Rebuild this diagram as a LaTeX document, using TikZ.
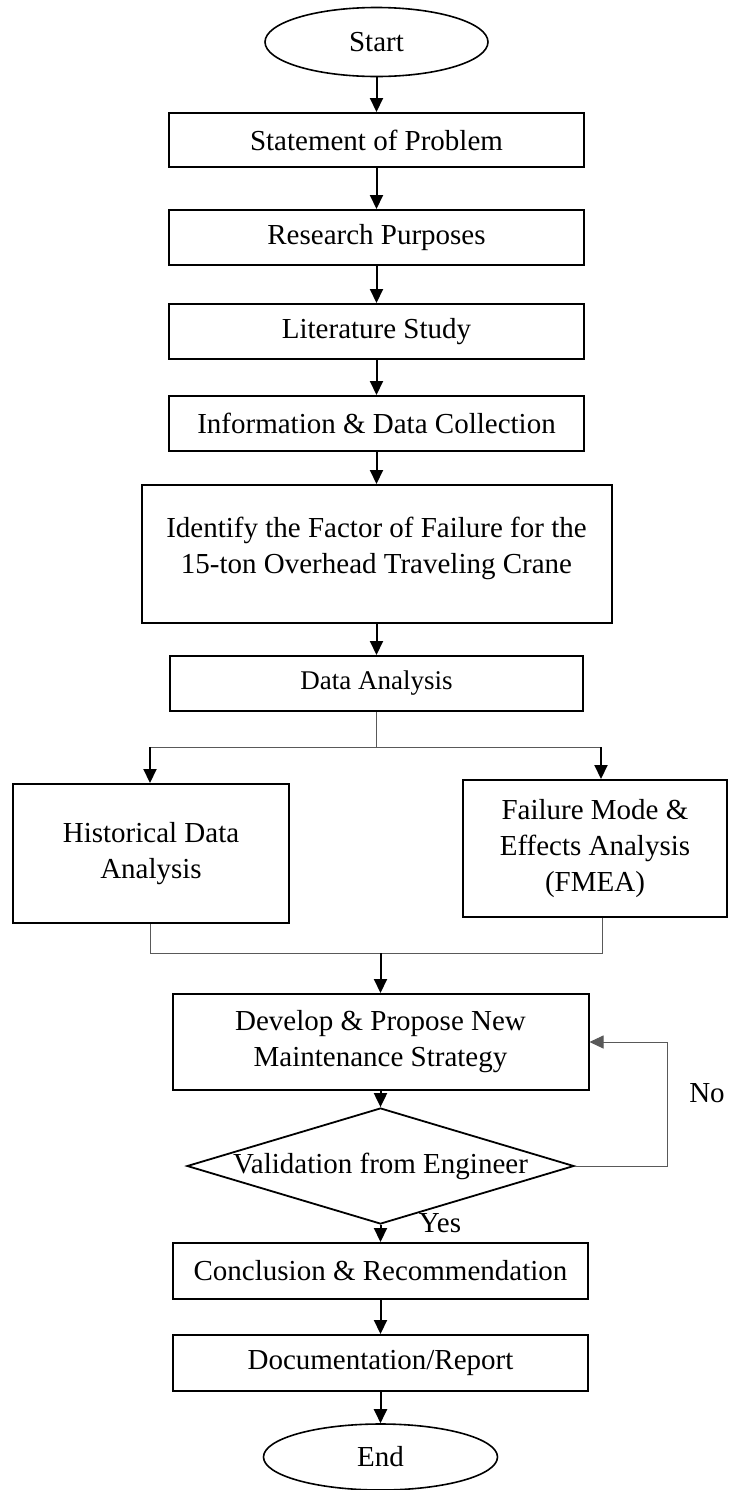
\documentclass[tikz,border=0pt]{standalone}
\usepackage{fontspec}
\setmainfont{Liberation Serif}
\usetikzlibrary{shapes.geometric,arrows.meta}
\tikzset{
    proc/.style={draw, line width=1pt, rectangle, inner sep=0pt, align=center,
        font=\fontsize{14.5}{18}\selectfont},
    term/.style={draw, line width=0.8pt, ellipse, inner sep=0pt,
        font=\fontsize{14.5}{18}\selectfont},
    decide/.style={draw, line width=0.9pt, diamond, inner sep=0pt,
        minimum width=193.5pt, minimum height=58pt, font=\fontsize{14.5}{18}\selectfont},
    link/.style={line width=1pt, -{Triangle[length=7pt,width=6.5pt]}},
    thinline/.style={line width=0.5pt, draw=black!65},
    tag/.style={inner sep=0pt, font=\fontsize{14.5}{18}\selectfont}
}

\begin{document}
\begin{tikzpicture}[x=0.5pt, y=-0.5pt]
                        \useasboundingbox (0,0) rectangle (729,1490);
                        \node[term, minimum width=111.5pt, minimum height=34.5pt] (start) at (376.5,42) {Start};
                        \node[proc, minimum width=207.5pt, minimum height=27pt] (stmt) at (376.5,140) {Statement of Problem};
                        \node[proc, minimum width=207.5pt, minimum height=27.5pt] (purp) at (376.5,237.5) {Research Purposes};
                        \node[proc, minimum width=207.5pt, minimum height=27.5pt] (lit) at (376.5,331.5) {Literature Study};
                        \node[proc, minimum width=207.5pt, minimum height=27.5pt] (info) at (376.5,423.5) {Information \& Data Collection};
                        \node[proc, minimum width=235pt, minimum height=69pt] (ident) at (376.5,554) {Identify the Factor of Failure for the\\15-ton Overhead Traveling Crane\\[-9pt]};
                        \node[proc, minimum width=206.5pt, minimum height=27.5pt, font=\fontsize{13.5}{18}\selectfont] (anal) at (376.5,683.5) {Data Analysis};
                        \node[proc, minimum width=138pt, minimum height=69.5pt] (hist) at (151,853.5) {Historical Data\\Analysis};
                        \node[proc, minimum width=132pt, minimum height=68.5pt] (fmea) at (595,848.5) {Failure Mode \&\\Effects Analysis\\(FMEA)};
                        \node[proc, minimum width=208pt, minimum height=48pt] (dev) at (380.5,1042) {Develop \& Propose New\\Maintenance Strategy};
                        \node[decide] (valid) at (380.5,1166) {\makebox[0pt]{Validation from Engineer}};
                        \node[proc, minimum width=207.5pt, minimum height=28pt] (concl) at (380.5,1271) {Conclusion \& Recommendation};
                        \node[proc, minimum width=207.5pt, minimum height=28pt] (doc) at (380.5,1363) {Documentation/Report};
                        \node[term, minimum width=117pt, minimum height=33pt] (end) at (380.5,1457) {End};
                        \node[tag] (yes) at (440,1223) {Yes};
                        \node[tag] (no) at (707,1093) {No};
                        \draw[link] (start) -- (stmt);
                        \draw[link] (stmt) -- (purp);
                        \draw[link] (purp) -- (lit);
                        \draw[link] (lit) -- (info);
                        \draw[link] (info) -- (ident);
                        \draw[link] (ident) -- (anal);
                        \coordinate (splitL) at (150,747);
                        \coordinate (splitR) at (601,747);
                        \draw[thinline] (anal.south) -- (anal.south |- splitL);
                        \draw[thinline] (splitL) -- (splitR);
                        \draw[link] (splitL) -- (splitL |- hist.north);
                        \draw[link] (splitR) -- (splitR |- fmea.north);
                        \coordinate (joinL) at (150,953);
                        \coordinate (joinR) at (602,953);
                        \draw[thinline] (joinL |- hist.south) -- (joinL) -- (joinR) -- (joinR |- fmea.south);
                        \draw[link] (dev.north |- joinL) -- (dev.north);
                        \draw[link] (dev) -- (valid);
                        \draw[link] (valid) -- (concl);
                        \coordinate (back) at (667,1166);
                        \draw[thinline, -{Triangle[length=7pt,width=6.5pt]}] (valid.east) -- (back) |- (dev.east);
                        \draw[link] (concl) -- (doc);
                        \draw[link] (doc) -- (end);
                \end{tikzpicture}
\end{document}
